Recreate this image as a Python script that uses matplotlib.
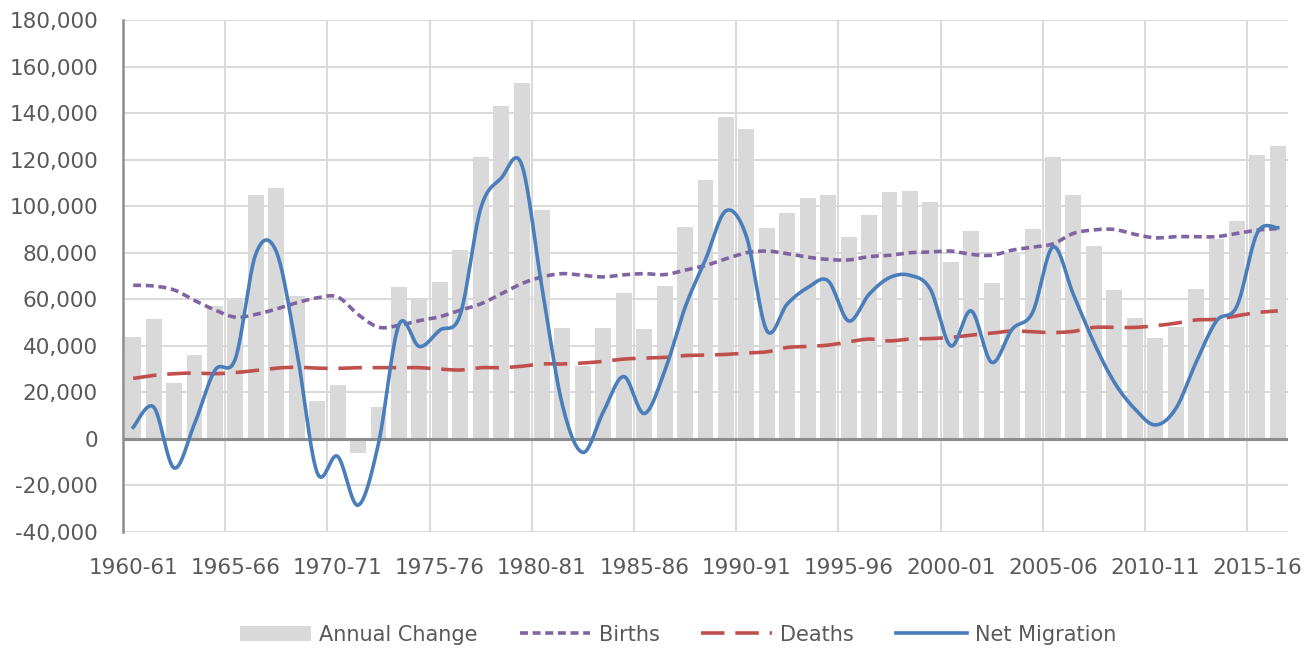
import numpy as np
import matplotlib.pyplot as plt
from matplotlib.ticker import FuncFormatter

# financial years 1960-61 .. 2016-17
start_years = list(range(1960, 2017))
labels = [f"{y}-{(y + 1) % 100:02d}" for y in start_years]

annual_change = [43900, 51400, 24000, 36000, 57000, 60100, 104700, 107900, 61200, 16100,
                 23300, -6000, 13900, 65100, 60600, 67600, 81000, 121000, 143000, 152900,
                 98300, 47800, 31200, 47500, 62600, 47100, 65700, 91000, 111100, 138300,
                 133100, 90700, 96900, 103400, 104600, 86700, 96000, 106000, 106400, 101700,
                 76000, 89300, 67100, 80000, 90000, 121100, 104600, 82900, 64000, 52100,
                 43300, 47900, 64600, 86000, 93600, 122100, 126000]

births = [66000, 65700, 64000, 59500, 55400, 52300, 53500, 55800, 58500, 60600,
          61000, 53500, 48000, 48800, 50800, 52500, 55300, 58000, 62300, 66700,
          69600, 71000, 70300, 69600, 70500, 71000, 70600, 72500, 74500, 77400,
          80000, 80700, 79600, 78100, 77100, 76900, 78300, 78900, 80000, 80300,
          80700, 79300, 78900, 81100, 82400, 83800, 88300, 89800, 90000, 87900,
          86400, 86900, 86900, 86900, 88300, 89700, 90400]

deaths = [26000, 27300, 28000, 28300, 28000, 28500, 29400, 30400, 30800, 30400,
          30300, 30600, 30600, 30600, 30600, 30000, 29600, 30600, 30600, 31200,
          32200, 32200, 32600, 33300, 34300, 34700, 35000, 35800, 36000, 36300,
          36900, 37400, 39300, 39700, 40300, 41700, 42900, 42100, 42900, 43100,
          43600, 44600, 45400, 46400, 46000, 45700, 46200, 47900, 47900, 47900,
          48600, 49700, 51100, 51400, 52900, 54300, 55000]

net_migration = [5000, 13700, -12500, 6500, 29500, 34500, 79500, 80500, 38000, -14500,
                 -7500, -28500, -2000, 49000, 39700, 46700, 53400, 99000, 112000, 118000,
                 65000, 14500, -5800, 11600, 26800, 10900, 29000, 56500, 77100, 98000,
                 87000, 46500, 58000, 65000, 67900, 50700, 62100, 69300, 70300, 64300,
                 40000, 55000, 32900, 47100, 54300, 82500, 62000, 41400, 24300, 12900,
                 6000, 12900, 32900, 50700, 57100, 88600, 90700]


def smooth(xs, ys, n=20):
    # Excel-style smoothed line (Catmull-Rom bezier through the points)
    xs = np.asarray(xs, float)
    ys = np.asarray(ys, float)
    px = np.concatenate([[xs[0]], xs, [xs[-1]]])
    py = np.concatenate([[ys[0]], ys, [ys[-1]]])
    out_x, out_y = [], []
    t = np.linspace(0, 1, n, endpoint=False)
    for i in range(1, len(px) - 2):
        p0x, p1x, p2x, p3x = px[i - 1:i + 3]
        p0y, p1y, p2y, p3y = py[i - 1:i + 3]
        c1x, c1y = p1x + (p2x - p0x) / 6, p1y + (p2y - p0y) / 6
        c2x, c2y = p2x - (p3x - p1x) / 6, p2y - (p3y - p1y) / 6
        b0, b1, b2, b3 = (1 - t) ** 3, 3 * (1 - t) ** 2 * t, 3 * (1 - t) * t ** 2, t ** 3
        out_x.extend(b0 * p1x + b1 * c1x + b2 * c2x + b3 * p2x)
        out_y.extend(b0 * p1y + b1 * c1y + b2 * c2y + b3 * p2y)
    out_x.append(xs[-1])
    out_y.append(ys[-1])
    return np.array(out_x), np.array(out_y)


x = np.arange(len(labels))

fig = plt.figure(figsize=(13.07, 6.49), dpi=100)
ax = fig.add_axes([0.0941, 0.1803, 0.8914, 0.7889])

h_bar = ax.bar(x, annual_change, width=0.78, color="#D9D9D9", label="Annual Change", zorder=2)

bx, by = smooth(x, births)
h_b, = ax.plot(bx, by, color="#8064A2", lw=2.6, linestyle=(0, (2.2, 1.3)), label="Births", zorder=3)
dx, dy = smooth(x, deaths)
h_d, = ax.plot(dx, dy, color="#C0504D", lw=2.6, linestyle=(0, (6.5, 3.0)), label="Deaths", zorder=3)
mx, my = smooth(x, net_migration)
h_m, = ax.plot(mx, my, color="#4A7EBB", lw=2.6, label="Net Migration", zorder=4)

ax.axhline(0, color="#8C8C8C", lw=2.2, zorder=3)

ax.set_xlim(-0.5, len(labels) - 0.5)
ax.set_ylim(-40000, 180000)
ax.set_yticks(range(-40000, 180001, 20000))
ax.yaxis.set_major_formatter(FuncFormatter(lambda v, p: f"{int(v):,}"))

ax.set_xticks(x[::5])
ax.set_xticklabels(labels[::5])
ax.set_xticks(np.arange(4.5, len(labels), 5), minor=True)

ax.grid(axis="y", color="#D9D9D9", lw=1.4, zorder=0)
ax.grid(axis="x", which="minor", color="#D9D9D9", lw=1.4, zorder=0)
ax.set_axisbelow(True)

for s in ["top", "right", "bottom"]:
    ax.spines[s].set_visible(False)
ax.spines["left"].set_color("#8C8C8C")
ax.spines["left"].set_linewidth(1.8)

ax.tick_params(axis="both", which="both", length=0, colors="#595959", labelsize=15.5)
ax.tick_params(axis="y", pad=18)
ax.tick_params(axis="x", pad=19)

fig.legend([h_bar, h_b, h_d, h_m], ["Annual Change", "Births", "Deaths", "Net Migration"],
           loc="center", bbox_to_anchor=(0.519, 0.022), ncol=4, frameon=False,
           fontsize=15, handlelength=3.4, columnspacing=2.0, handletextpad=0.4,
           labelcolor="#595959")

fig.savefig("out.png", dpi=100)
